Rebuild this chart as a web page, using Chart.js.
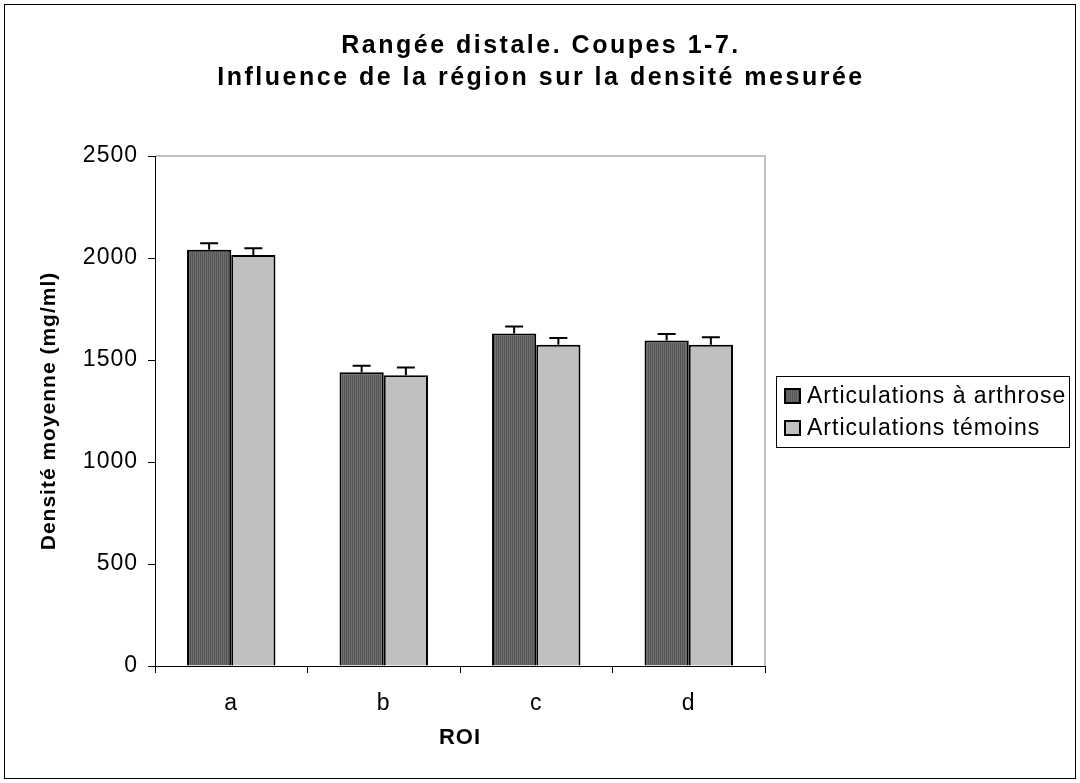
<!DOCTYPE html>
<html>
<head>
<meta charset="utf-8">
<script src="https://cdn.jsdelivr.net/npm/chart.js@4/dist/chart.umd.min.js"></script>
<style>
  html, body { margin: 0; padding: 0; background: #fff; }
  #wrap { width: 1080px; height: 783px; }
</style>
</head>
<body>
<div id="wrap"><canvas id="chart" width="1080" height="783"></canvas></div>
<script>
const categories = ['a', 'b', 'c', 'd'];
const seriesNames = ['Articulations à arthrose', 'Articulations témoins'];
const arthrose = [2040, 1440, 1630, 1595];
const temoins = [2015, 1425, 1575, 1575];
const errArthrose = [32, 32, 34, 33];
const errTemoins = [33, 38, 33, 37];
const titleLines = ['Rangée distale. Coupes 1-7.', 'Influence de la région sur la densité mesurée'];
const yMin = 0, yMax = 2500, yStep = 500;

const FONT = '"Liberation Sans", Arial, sans-serif';
Chart.defaults.font.family = FONT;
Chart.defaults.color = '#000';

// fine vertical stripes for the dark series
function stripes() {
    const c = document.createElement('canvas');
    c.width = 2; c.height = 2;
    const g = c.getContext('2d');
    g.fillStyle = '#555555'; g.fillRect(0, 0, 1, 2);
    g.fillStyle = '#6e6e6e'; g.fillRect(1, 0, 1, 2);
    return g.createPattern(c, 'repeat');
}
const darkFill = stripes();
const lightFill = '#c0c0c0';

// the original has slightly spaced-out lettering everywhere
const spacing = {
    id: 'spacing',
    beforeDraw(chart) { chart.ctx.letterSpacing = '1px'; }
};

const errorBars = {
    id: 'errorBars',
    afterDatasetsDraw(chart) {
        const ctx = chart.ctx;
        const y = chart.scales.y;
        const errs = [errArthrose, errTemoins];
        ctx.save();
        ctx.strokeStyle = '#000';
        ctx.lineWidth = 2;
        chart.data.datasets.forEach((ds, i) => {
            chart.getDatasetMeta(i).data.forEach((bar, j) => {
                const top = y.getPixelForValue(ds.data[j] + errs[i][j]);
                const base = y.getPixelForValue(ds.data[j]);
                ctx.beginPath();
                ctx.moveTo(bar.x, base);
                ctx.lineTo(bar.x, top);
                ctx.moveTo(bar.x - 9, top);
                ctx.lineTo(bar.x + 9, top);
                ctx.stroke();
            });
        });
        ctx.restore();
    }
};

const decor = {
    id: 'decor',
    afterDraw(chart) {
        const ctx = chart.ctx;
        const a = chart.chartArea;
        ctx.save();
        // outer frame
        ctx.strokeStyle = '#000';
        ctx.lineWidth = 1;
        ctx.strokeRect(4.5, 4.5, 1071, 774);
        // grey plot border top/right
        ctx.strokeStyle = '#c0c0c0';
        ctx.lineWidth = 2;
        ctx.beginPath();
        ctx.moveTo(a.left + 1, a.top);
        ctx.lineTo(a.right, a.top);
        ctx.lineTo(a.right, a.bottom);
        ctx.stroke();
        // title
        ctx.fillStyle = '#000';
        ctx.font = 'bold 25px ' + FONT;
        ctx.letterSpacing = '2.5px';
        ctx.textAlign = 'center';
        ctx.textBaseline = 'alphabetic';
        ctx.fillText(titleLines[0], 541, 53);
        ctx.fillText(titleLines[1], 541, 85);
        // legend
        ctx.letterSpacing = '1px';
        ctx.strokeStyle = '#000';
        ctx.lineWidth = 1;
        ctx.strokeRect(776.5, 376.5, 293, 71);
        ctx.font = '23px ' + FONT;
        ctx.textAlign = 'left';
        const fills = [darkFill, lightFill];
        seriesNames.forEach((name, i) => {
            const cy = 396 + i * 32;
            ctx.fillStyle = fills[i];
            ctx.fillRect(785, cy - 7, 15, 14);
            ctx.lineWidth = 2;
            ctx.strokeRect(785, cy - 7, 15, 14);
            ctx.fillStyle = '#000';
            ctx.textBaseline = 'middle';
            ctx.fillText(name, 807, cy + 1);
        });
        ctx.restore();
    }
};

new Chart(document.getElementById('chart'), {
    type: 'bar',
    data: {
        labels: categories,
        datasets: [
            { label: seriesNames[0], data: arthrose, backgroundColor: darkFill, borderColor: '#000', borderWidth: 2 },
            { label: seriesNames[1], data: temoins, backgroundColor: lightFill, borderColor: '#000', borderWidth: 2 }
        ]
    },
    options: {
        responsive: false,
        animation: false,
        layout: { padding: { left: 0, top: 156, right: 315, bottom: 0 } },
        datasets: { bar: { categoryPercentage: 0.58, barPercentage: 1.0 } },
        plugins: {
            legend: { display: false },
            title: { display: false },
            tooltip: { enabled: false }
        },
        scales: {
            x: {
                afterFit: s => { s.height = 117; },
                grid: { drawOnChartArea: false, drawTicks: true, tickLength: 7, color: '#000', lineWidth: 1 },
                border: { color: '#000', width: 1 },
                ticks: { font: { size: 23 }, padding: 17, color: '#000' },
                title: { display: true, text: 'ROI', font: { size: 22, weight: 'bold' }, padding: { top: 0, bottom: 32 }, color: '#000' }
            },
            y: {
                min: yMin, max: yMax,
                afterFit: s => { s.width = 155; },
                grid: { drawOnChartArea: false, drawTicks: true, tickLength: 7, color: '#000', lineWidth: 1 },
                border: { color: '#000', width: 1 },
                ticks: { stepSize: yStep, font: { size: 23 }, padding: 10, color: '#000', callback: v => String(v) },
                title: { display: true, text: 'Densité moyenne (mg/ml)', font: { size: 21, weight: 'bold' }, padding: { top: 37, bottom: 0 }, color: '#000' }
            }
        }
    },
    plugins: [spacing, errorBars, decor]
});
</script>
</body>
</html>
